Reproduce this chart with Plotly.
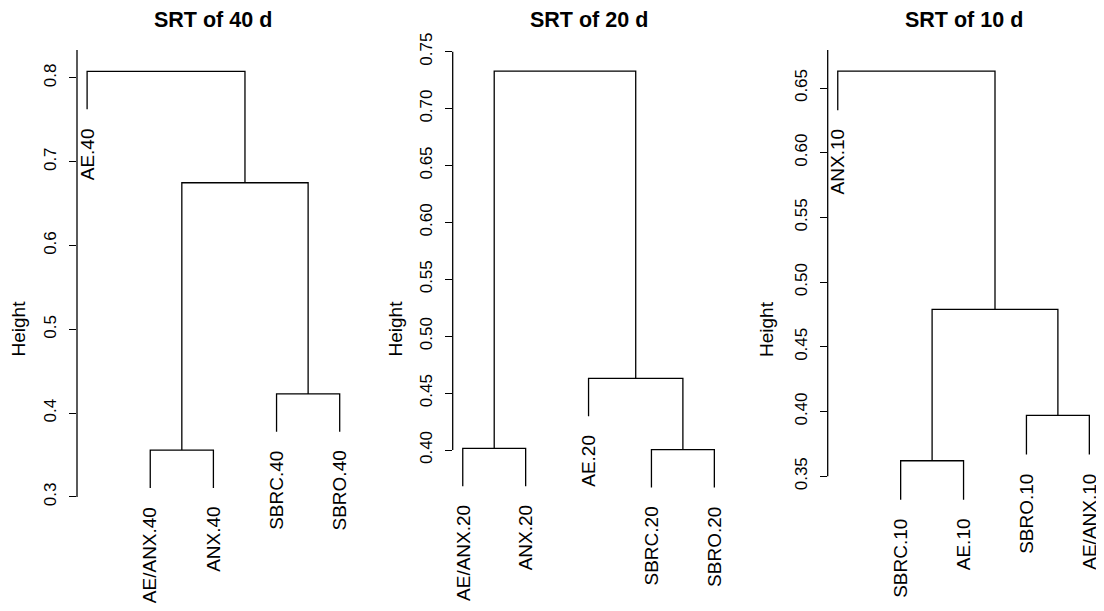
import plotly.graph_objects as go

# ---- data ----
titles = ["SRT of 40 d", "SRT of 20 d", "SRT of 10 d"]

labels_40 = ["AE.40", "AE/ANX.40", "ANX.40", "SBRC.40", "SBRO.40"]
merge_40 = [(-2, -3), (-4, -5), (1, 2), (-1, 3)]
height_40 = [0.356, 0.423, 0.675, 0.808]
ticks_40 = [0.3, 0.4, 0.5, 0.6, 0.7, 0.8, 0.9]
ticktext_40 = ["0.3", "0.4", "0.5", "0.6", "0.7", "0.8", "0.9"]

labels_20 = ["AE/ANX.20", "ANX.20", "AE.20", "SBRC.20", "SBRO.20"]
merge_20 = [(-4, -5), (-1, -2), (-3, 1), (2, 3)]
height_20 = [0.4003, 0.4015, 0.463, 0.733]
ticks_20 = [0.40, 0.45, 0.50, 0.55, 0.60, 0.65, 0.70, 0.75]
ticktext_20 = ["0.40", "0.45", "0.50", "0.55", "0.60", "0.65", "0.70", "0.75"]

labels_10 = ["ANX.10", "SBRC.10", "AE.10", "SBRO.10", "AE/ANX.10"]
merge_10 = [(-2, -3), (-4, -5), (1, 2), (-1, 3)]
height_10 = [0.362, 0.397, 0.479, 0.663]
ticks_10 = [0.35, 0.40, 0.45, 0.50, 0.55, 0.60, 0.65, 0.70]
ticktext_10 = ["0.35", "0.40", "0.45", "0.50", "0.55", "0.60", "0.65", "0.70"]

HANG = 0.1

# ---- layout geometry (pixels, in the 1104x611 page) ----
OFF = 8                       # page body margin
W, H = 1104 - OFF, 611 - OFF  # figure size
panels_px = [(77, 349.8), (452.7, 724.4), (827.7, 1099.4)]
yranges = [(0.1675, 0.8334), (0.2612, 0.7515), (0.2482, 0.6794)]
plot_top, plot_bot = 50, 608
ylab_x = [17.5, 394.5, 766]
ylab_y = 329
title_y = 20.5

FONT = "Liberation Sans, Arial, Helvetica, sans-serif"
LINE_COL = "#000000"


def px(v):
    return v - OFF


panels = [
    (labels_40, merge_40, height_40, ticks_40, ticktext_40),
    (labels_20, merge_20, height_20, ticks_20, ticktext_20),
    (labels_10, merge_10, height_10, ticks_10, ticktext_10),
]

fig = go.Figure()
annotations = []
shapes = []


def dendro(labels, merge, height):
    hang = HANG * (max(height) - min(height))
    cx, cy = {}, {}
    xs, ys = [], []
    leaf_y = {}
    for i, ((a, b), h) in enumerate(zip(merge, height), start=1):
        pts = []
        for c in (a, b):
            if c < 0:
                x = -c
                y = h - hang
                leaf_y[-c] = y
            else:
                x, y = cx[c], cy[c]
            pts.append((x, y))
        (x1, y1), (x2, y2) = pts
        xs += [x1, x1, x2, x2, None]
        ys += [y1, h, h, y2, None]
        cx[i] = (x1 + x2) / 2
        cy[i] = h
    return xs, ys, leaf_y


for k, (labels, merge, height, tv, tt) in enumerate(panels):
    sfx = "" if k == 0 else str(k + 1)
    xs, ys, leaf_y = dendro(labels, merge, height)
    fig.add_trace(go.Scatter(
        x=xs, y=ys, mode="lines", xaxis="x" + sfx, yaxis="y" + sfx,
        line=dict(color=LINE_COL, width=1.3), hoverinfo="skip", showlegend=False,
        cliponaxis=False,
    ))
    x0p, x1p = px(panels_px[k][0]), px(panels_px[k][1])
    fig.layout["xaxis" + sfx] = dict(
        domain=[x0p / W, x1p / W], range=[0.84, 5.16], visible=False,
        anchor="y" + sfx, fixedrange=True, automargin=False,
    )
    fig.layout["yaxis" + sfx] = dict(
        domain=[(H - px(plot_bot)) / H, (H - px(plot_top)) / H],
        range=list(yranges[k]),
        anchor="x" + sfx, showgrid=False, zeroline=False, showline=False,
        tickmode="array", tickvals=tv, ticktext=tt,
        ticks="outside", ticklen=7, tickwidth=1.2, tickcolor=LINE_COL,
        ticklabelstandoff=6,
        tickangle=-90, tickfont=dict(family=FONT, size=17, color="#000"),
        fixedrange=True, automargin=False,
    )
    top = min(max(tv), yranges[k][1])
    shapes.append(dict(
        type="line", xref="x" + sfx + " domain", yref="y" + sfx,
        x0=0, x1=0, y0=min(tv), y1=top,
        line=dict(color=LINE_COL, width=1.3),
    ))
    for i, lab in enumerate(labels, start=1):
        annotations.append(dict(
            x=i, y=leaf_y[i], xref="x" + sfx, yref="y" + sfx, text=lab,
            textangle=-90, showarrow=False, xanchor="center", yanchor="top",
            yshift=-17, font=dict(family=FONT, size=19, color="#000"),
        ))
    annotations.append(dict(
        x=(x0p + x1p) / 2 / W, y=(H - px(title_y)) / H, xref="paper", yref="paper",
        text="<b>" + titles[k] + "</b>", showarrow=False,
        xanchor="center", yanchor="middle",
        font=dict(family=FONT, size=21.5, color="#000"),
    ))
    annotations.append(dict(
        x=px(ylab_x[k]) / W, y=(H - px(ylab_y)) / H, xref="paper", yref="paper",
        text="Height", textangle=-90, showarrow=False,
        xanchor="center", yanchor="middle",
        font=dict(family=FONT, size=19, color="#000"),
    ))

fig.update_layout(
    template="none", autosize=False,
    width=W, height=H, margin=dict(l=0, r=0, t=0, b=0, pad=0),
    paper_bgcolor="white", plot_bgcolor="white",
    annotations=annotations, shapes=shapes, showlegend=False,
)

fig.write_html("out.html", config={"displayModeBar": False})
